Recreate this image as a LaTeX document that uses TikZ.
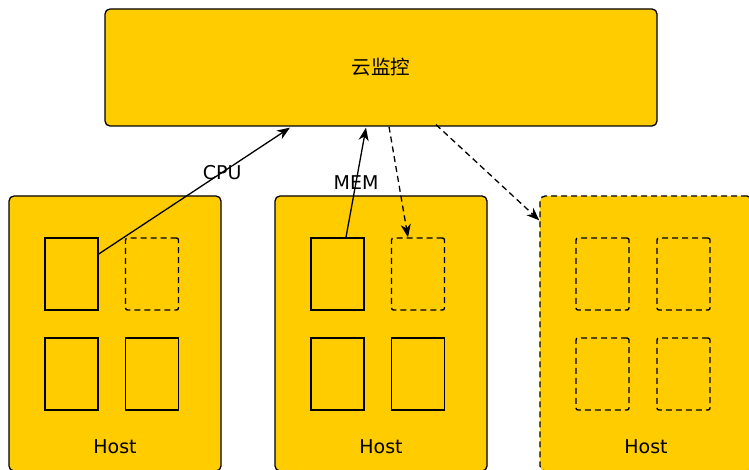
\documentclass[tikz,border=0pt]{standalone}
\usepackage{fontspec}
\setmainfont{DejaVu Sans}
\newfontfamily\cjk{Noto Sans CJK SC}
\usetikzlibrary{arrows.meta}
\definecolor{gold}{HTML}{FFCC00}
\tikzset{
  box/.style={draw=black, fill=gold, line width=1.3pt, rounded corners=5pt, inner sep=0pt},
  hostbox/.style={box, minimum width=212pt, minimum height=275pt},
  vm/.style={draw=black, line width=1.4pt, minimum width=53pt, minimum height=72pt, inner sep=0pt},
  vmd/.style={vm, dashed, dash pattern=on 6pt off 4pt, rounded corners=2pt},
  lbl/.style={font=\fontsize{19}{22}\selectfont, inner sep=0pt},
  conn/.style={line width=1.3pt, -{Stealth[length=13pt,width=10pt,inset=4pt]}},
  dconn/.style={conn, dash pattern=on 6pt off 4pt},
}
\begin{document}
\begin{tikzpicture}[x=1pt,y=-1pt]
\useasboundingbox (0,0) rectangle (749,470);
\clip (0,0) rectangle (749,470);
\node[box, minimum width=552pt, minimum height=117pt, font=\cjk\fontsize{19.5}{22}\selectfont] (mon) at (381,67.5) {云监控};
\node[hostbox] (h1) at (115,333.5) {};
\node[hostbox] (h2) at (381,333.5) {};
\node[hostbox, dashed, dash pattern=on 6pt off 4pt] (h3) at (646,333.5) {};
% host 1
\node[vm] (a1) at (71.5,274) {};
\node[vmd] (b1) at (152,274) {};
\node[vm] (c1) at (71.5,374) {};
\node[vm] (d1) at (152,374) {};
% host 2
\node[vm] (a2) at (337.5,274) {};
\node[vmd] (b2) at (418,274) {};
\node[vm] (c2) at (337.5,374) {};
\node[vm] (d2) at (418,374) {};
% host 3
\node[vmd] (a3) at (602.5,274) {};
\node[vmd] (b3) at (683.5,274) {};
\node[vmd] (c3) at (602.5,374) {};
\node[vmd] (d3) at (683.5,374) {};
% labels
\node[lbl] (l1) at (115,447) {Host};
\node[lbl] (l2) at (381,447) {Host};
\node[lbl] (l3) at (646,447) {Host};
% connectors
\draw[conn] ([yshift=20pt]a1.east) -- node[lbl, pos=0.646] {CPU} ([xshift=-91pt,yshift=-1pt]mon.south);
\draw[conn] ([xshift=8.5pt]a2.north) -- node[lbl, pos=0.5] {MEM} ([xshift=-15pt,yshift=-1pt]mon.south);
\draw[dconn] ([xshift=8pt]mon.south) -- ([xshift=-10pt]b2.north);
\draw[dconn] ([xshift=55pt,yshift=2pt]mon.south) -- ([yshift=-25pt]h3.north west);
\end{tikzpicture}
\end{document}
